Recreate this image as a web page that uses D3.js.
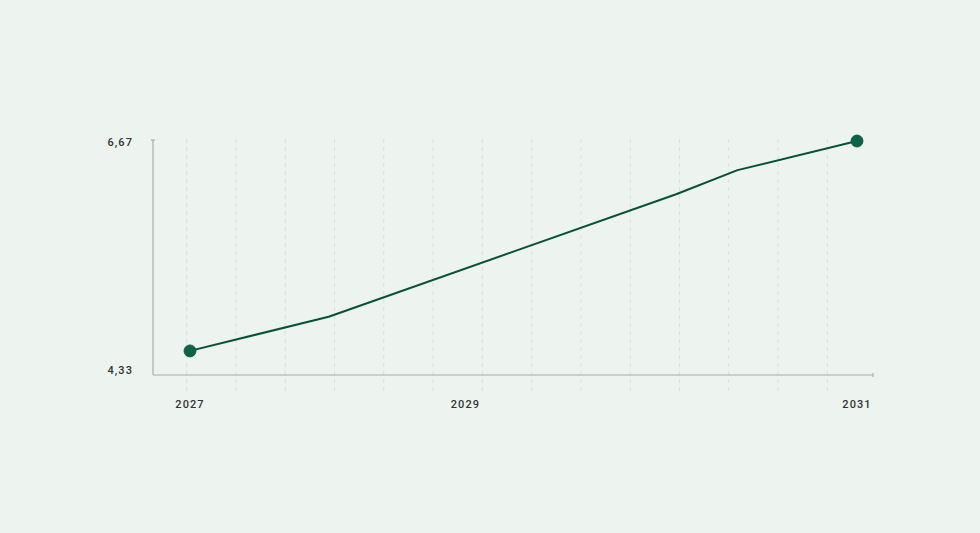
<!DOCTYPE html>
<html>
<head>
<meta charset="utf-8">
<script src="https://cdn.jsdelivr.net/npm/d3@7"></script>
<style>
  html, body { margin: 0; padding: 0; background: #edf3ef; }
  svg { display: block; }
  .lbl { font-family: Roboto, "Noto Sans", sans-serif; font-size: 11px; font-weight: 500; letter-spacing: 1.1px; fill: #333; }
</style>
</head>
<body>
<div id="chart"></div>
<script>
const [svgW, svgH] = [980, 533];

// data points (dates) and values
const dates = ["2027-01-01", "2028-01-04", "2030-07-14", "2030-12-24", "2031-11-06"];
const values = [4.57, 4.91, 6.13, 6.37, 6.66];

// axis labels
const yTicks = [4.33, 6.67];
const xTicks = ["2027-01-01", "2029-01-01", "2031-11-06"];
const gridCount = 14;

const parse = d3.timeParse("%Y-%m-%d");
const comma = d3.formatLocale({decimal: ",", thousands: ".", grouping: [3], currency: ["", " €"]}).format(".2f");

const x = d3.scaleTime()
    .domain(d3.extent(dates, parse))
    .range([190, 857]);
const y = d3.scaleLinear()
    .domain(d3.extent(yTicks))
    .range([375, 140]);
const gx = d3.scaleLinear().domain([0, gridCount - 1]).range([186.7, 827.3]);

const svg = d3.select("#chart").append("svg")
    .attr("width", svgW).attr("height", svgH);

// dashed vertical grid
svg.append("g").selectAll("line")
    .data(d3.range(gridCount))
    .join("line")
    .attr("x1", d => gx(d)).attr("x2", d => gx(d))
    .attr("y1", 139).attr("y2", 392)
    .attr("stroke", "#dadfdb").attr("stroke-width", 1)
    .attr("stroke-dasharray", "4,4");

// axes
const axisColor = "#a9aeab";
svg.append("line")
    .attr("x1", 153).attr("x2", 153).attr("y1", y.range()[1]).attr("y2", y.range()[0])
    .attr("stroke", axisColor).attr("stroke-width", 1.2);
svg.append("line")
    .attr("x1", 153).attr("x2", 873).attr("y1", y.range()[0]).attr("y2", y.range()[0])
    .attr("stroke", axisColor).attr("stroke-width", 1.2);
// little end caps
svg.append("line").attr("x1", 151).attr("x2", 155).attr("y1", 140).attr("y2", 140)
    .attr("stroke", axisColor).attr("stroke-width", 1.2);
svg.append("line").attr("x1", 873).attr("x2", 873).attr("y1", 373).attr("y2", 377)
    .attr("stroke", axisColor).attr("stroke-width", 1.2);

// y labels
svg.append("g").selectAll("text")
    .data(yTicks)
    .join("text")
    .attr("class", "lbl")
    .attr("x", 133)
    .attr("y", d => y(d))
    .attr("dy", (d, i) => i === 0 ? "-1px" : "6px")
    .attr("text-anchor", "end")
    .text(d => comma(d));

// x labels
svg.append("g").selectAll("text")
    .data(xTicks)
    .join("text")
    .attr("class", "lbl")
    .attr("x", d => x(parse(d)))
    .attr("y", 408)
    .attr("text-anchor", "middle")
    .text(d => d3.timeFormat("%Y")(parse(d)));

// line
const pts = dates.map((d, i) => [parse(d), values[i]]);
svg.append("path")
    .datum(pts)
    .attr("fill", "none")
    .attr("stroke", "#06513a")
    .attr("stroke-width", 2)
    .attr("stroke-linejoin", "round")
    .attr("d", d3.line().x(d => x(d[0])).y(d => y(d[1])));

// end markers
svg.append("g").selectAll("circle")
    .data([pts[0], pts[pts.length - 1]])
    .join("circle")
    .attr("cx", d => x(d[0]))
    .attr("cy", d => y(d[1]))
    .attr("r", 6)
    .attr("fill", "#0b6348")
    .attr("stroke", "#06513a")
    .attr("stroke-width", 0.8);
</script>
</body>
</html>
